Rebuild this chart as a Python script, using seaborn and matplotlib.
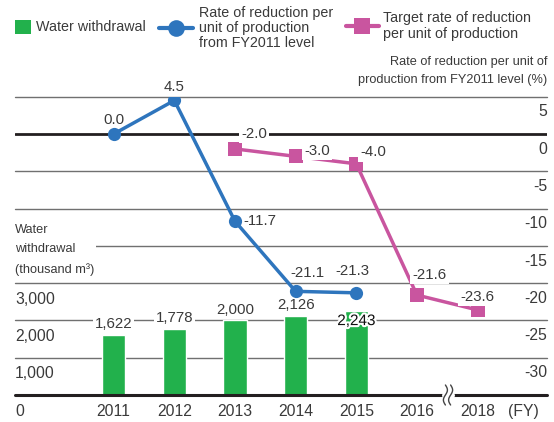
import matplotlib
matplotlib.use('Agg')
import matplotlib.pyplot as plt
import seaborn as sns
import pandas as pd
import numpy as np
from matplotlib import font_manager
from matplotlib.lines import Line2D
from matplotlib.patches import Patch
import matplotlib.patheffects as pe
import matplotlib.transforms as mtransforms

# ---------------- data ----------------
categories = ['2011', '2012', '2013', '2014', '2015', '2016', '2018']
bar_years = ['2011', '2012', '2013', '2014', '2015']
water_withdrawal = [1622, 1778, 2000, 2126, 2243]
bar_labels = ['1,622', '1,778', '2,000', '2,126', '2,243']
actual_years = ['2011', '2012', '2013', '2014', '2015']
actual_rate = [0.0, 4.5, -11.7, -21.1, -21.3]
actual_labels = ['0.0', '4.5', '-11.7', '-21.1', '-21.3']
target_years = ['2013', '2014', '2015', '2016', '2018']
target_rate = [-2.0, -3.0, -4.0, -21.6, -23.6]
target_labels = ['-2.0', '-3.0', '-4.0', '-21.6', '-23.6']
left_ticks = [3000, 2000, 1000, 0]
left_tick_labels = ['3,000', '2,000', '1,000', '0']
right_ticks = [5, 0, -5, -10, -15, -20, -25, -30]
right_tick_labels = ['5', '0', '-5', '-10', '-15', '-20', '-25', '-30']
grid_right = [5, -5, -10, -15, -20, -25, -30]

# ---------------- style ----------------
GREEN = '#22B14C'
BLUE = '#2E75BD'
PINK = '#C9559F'
TXT = '#3a3a3a'
GRID = '#707070'
DARK = '#231f20'

sns.set_theme(style='white')
plt.rcParams['font.family'] = ['Liberation Sans', 'DejaVu Sans']


def has_font(name):
    try:
        font_manager.findfont(font_manager.FontProperties(family=name),
                              fallback_to_default=False)
        return True
    except Exception:
        return False


if has_font('Liberation Sans Narrow'):
    narrow = dict(family=['Liberation Sans Narrow', 'DejaVu Sans'], fontsize=11)
    ls_right, ls_left = 1.3, 1.45
else:
    narrow = dict(family=['Liberation Sans', 'DejaVu Sans'], fontsize=9.2)
    ls_right, ls_left = 1.63, 1.83

W, H = 554, 422
fig = plt.figure(figsize=(W / 100, H / 100), dpi=100, facecolor='white')
ax = fig.add_axes([15 / W, 27 / H, 532 / W, (395 - 96.7) / H])

pos = {c: i for i, c in enumerate(categories)}

# bars
df = pd.DataFrame({'year': bar_years, 'water': water_withdrawal})
sns.barplot(data=df, x='year', y='water', order=categories, color=GREEN,
            saturation=1, width=0.38, ax=ax, zorder=2)
ax.set_xlim(-1.627, 7.144)
ax.set_ylim(0, 8000)
for s in ax.spines.values():
    s.set_visible(False)
ax.set_xlabel('')
ax.set_ylabel('')
ax.set_yticks([])
ax.grid(False)
ax.set_xticks(list(range(len(categories))) + [6.75])
ax.set_xticklabels(categories + ['(FY)'])
ax.tick_params(axis='x', length=0, pad=6.8, labelsize=11.3, labelcolor=TXT)

# twin axis for rates
ax2 = ax.twinx()
ax2.set_ylim(-35, 5)
for s in ax2.spines.values():
    s.set_visible(False)
ax2.set_yticks([])
ax2.grid(False)

# gridlines (aligned, on the bar axis so bars cover them)
for r in grid_right:
    lv = (r + 35) / 40 * 8000
    ax.axhline(lv, color=GRID, lw=1.0, zorder=1, clip_on=False)
ax.axhline(0, color=DARK, lw=2.2, zorder=3, clip_on=False)
ax2.axhline(0, color=DARK, lw=2.0, zorder=1)

# lines
sns.lineplot(x=[pos[y] for y in actual_years], y=actual_rate, ax=ax2,
             color=BLUE, lw=2.5, marker='o', markersize=9.5,
             markeredgewidth=0, sort=False, zorder=4)
sns.lineplot(x=[pos[y] for y in target_years], y=target_rate, ax=ax2,
             color=PINK, lw=2.5, marker='s', markersize=9.5,
             markeredgewidth=0, sort=False, zorder=4)
ax2.set_xlabel('')
ax2.set_ylabel('')
ax2.set_yticks([])
ax.set_xlim(-1.627, 7.144)

# bar labels
bar_offsets = [(0, 7.5), (0, 7.5), (0, 7.5), (0, 7.5), (0, -7)]
for yr, v, lab, off in zip(bar_years, water_withdrawal, bar_labels, bar_offsets):
    if off[1] < 0:
        ax.annotate(lab, xy=(pos[yr], v), xytext=off, textcoords='offset points',
                    ha='center', va='center', fontsize=11, color='#111111',
                    zorder=4,
                    path_effects=[pe.withStroke(linewidth=3, foreground='white')])
    else:
        ax.annotate(lab, xy=(pos[yr], v), xytext=off, textcoords='offset points',
                    ha='center', va='center', fontsize=10.8, color=TXT, zorder=4,
                    bbox=dict(boxstyle='square,pad=0.12', fc='white', ec='none'))

# rate labels
actual_offsets = [(0, 10), (0, 10), (18, 0), (8.4, 13), (-3, 16)]
for yr, v, lab, off in zip(actual_years, actual_rate, actual_labels, actual_offsets):
    ax2.annotate(lab, xy=(pos[yr], v), xytext=off, textcoords='offset points',
                 ha='center', va='center', fontsize=10.8, color=TXT, zorder=5)
target_offsets = [(13.7, 10.8), (15.6, 3.8), (12.2, 8.3), (9.1, 14.8), (0, 9.6)]
for yr, v, lab, off in zip(target_years, target_rate, target_labels, target_offsets):
    ax2.annotate(lab, xy=(pos[yr], v), xytext=off, textcoords='offset points',
                 ha='center', va='center', fontsize=10.8, color=TXT, zorder=5,
                 bbox=dict(boxstyle='square,pad=0.15', fc='white', ec='none'))

# axis tick labels (below gridlines)
tl = mtransforms.blended_transform_factory(ax.transAxes, ax.transData)
for v, lab in zip(left_ticks, left_tick_labels):
    ax.annotate(lab, xy=(0, v), xycoords=tl, xytext=(0, -6.2),
                textcoords='offset points', ha='left', va='top',
                fontsize=11.3, color=TXT)
tr = mtransforms.blended_transform_factory(ax2.transAxes, ax2.transData)
for v, lab in zip(right_ticks, right_tick_labels):
    ax2.annotate(lab, xy=(1, v), xycoords=tr, xytext=(0, -5.6),
                 textcoords='offset points', ha='right', va='top',
                 fontsize=11.3, color=TXT)

# axis titles
fig.text(547 / W, 1 - 71 / H, 'Rate of reduction per unit of\nproduction from FY2011 level (%)',
         ha='right', va='center', color=TXT, linespacing=ls_right, **narrow)
fig.text(15 / W, 1 - 250 / H, 'Water\nwithdrawal\n(thousand m³)',
         ha='left', va='center', color=TXT, linespacing=ls_left,
         bbox=dict(boxstyle='square,pad=0.1', fc='white', ec='none'), **narrow)

# axis break mark
x0, y0 = ax.transData.transform((5.512, 0))
gap = Line2D([x0 - 3, x0 + 3], [y0, y0], color='white', lw=5,
             transform=mtransforms.IdentityTransform(), zorder=10)
fig.add_artist(gap)
t = np.linspace(-1, 1, 40)
for dx in (-2.6, 2.6):
    xs = x0 + dx + 2.0 * np.sin(np.pi * t)
    ys = y0 + 10 * t
    fig.add_artist(Line2D(xs, ys, color='#444444', lw=1.0,
                          transform=mtransforms.IdentityTransform(), zorder=11))

# legends
common = dict(loc='center left', frameon=False, borderpad=0, borderaxespad=0,
              fontsize=10.3, labelcolor=TXT)
fig.legend(handles=[Patch(facecolor=GREEN, edgecolor='none')],
           labels=['Water withdrawal'], bbox_to_anchor=(15 / W, 1 - 27 / H),
           handlelength=1.12, handleheight=1.12, handletextpad=0.35, **common)
lg2 = fig.legend(handles=[Line2D([], [], color=BLUE, lw=3, marker='o',
                                 markersize=12, markeredgewidth=0)],
                 labels=['Rate of reduction per\nunit of production\nfrom FY2011 level'],
                 bbox_to_anchor=(159 / W, 1 - 28 / H),
                 handlelength=2.38, handletextpad=0.42, **common)
lg3 = fig.legend(handles=[Line2D([], [], color=PINK, lw=3, marker='s',
                                 markersize=12, markeredgewidth=0)],
                 labels=['Target rate of reduction\nper unit of production'],
                 bbox_to_anchor=(346 / W, 1 - 26 / H),
                 handlelength=2.3, handletextpad=0.28, **common)
for lg in (lg2, lg3):
    for txt in lg.get_texts():
        txt.set_linespacing(1.12)

fig.savefig('out.png', dpi=100, facecolor='white')
